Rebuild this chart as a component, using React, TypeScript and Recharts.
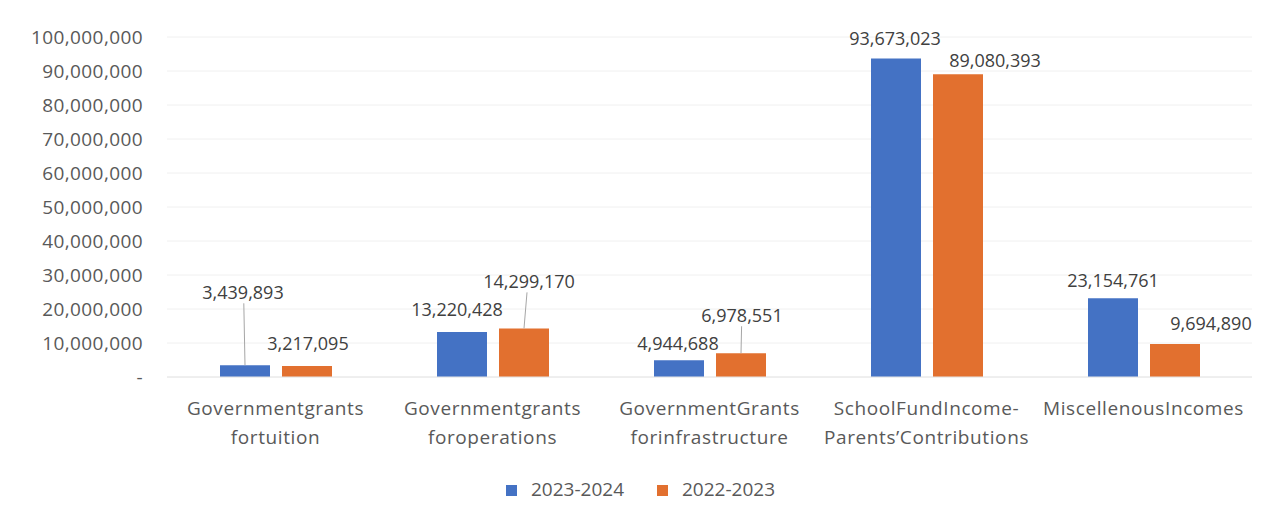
import React from "react";
import {
  BarChart,
  Bar,
  XAxis,
  YAxis,
  CartesianGrid,
  Legend,
  LabelList,
} from "recharts";

const CATEGORIES = [
  "Governmentgrants\nfortuition",
  "Governmentgrants\nforoperations",
  "GovernmentGrants\nforinfrastructure",
  "SchoolFundIncome-\nParents\u2019Contributions",
  "MiscellenousIncomes",
];
const SERIES_2023_2024 = [3439893, 13220428, 4944688, 93673023, 23154761];
const SERIES_2022_2023 = [3217095, 14299170, 6978551, 89080393, 9694890];
const Y_TICKS = [0, 10000000, 20000000, 30000000, 40000000, 50000000, 60000000, 70000000, 80000000, 90000000, 100000000];

const BLUE = "#4472C4";
const ORANGE = "#E2702F";
const TEXT = "#595959";
const FONT = "'Open Sans', sans-serif";

// label nudges [dx, lift above bar top, leader line?]
const LABEL_NUDGE_A: [number, number, boolean][] = [
  [-2, 73, true],
  [-5, 23, false],
  [-1, 17, false],
  [-1, 21, false],
  [0, 18, false],
];
const LABEL_NUDGE_B: [number, number, boolean][] = [
  [1, 23, false],
  [5, 47, true],
  [1, 38, true],
  [37, 14, false],
  [36, 21, false],
];

const data = CATEGORIES.map((name, i) => ({
  name,
  a: SERIES_2023_2024[i],
  b: SERIES_2022_2023[i],
}));

const fmt = (v: number) => v.toLocaleString("en-US");

function makeLabel(nudge: [number, number, boolean][]) {
  return (props: any) => {
    const { x, y, width, value, index } = props;
    const [dx, lift, leader] = nudge[index];
    const cx = Number(x) + Number(width) / 2;
    const top = Number(y);
    const ty = top - lift;
    return (
      <g>
        {leader && (
          <line x1={cx} y1={top} x2={cx + dx * 0.6} y2={ty + 11} stroke="#a6a6a6" strokeWidth={1} />
        )}
        <text
          x={cx + dx}
          y={ty}
          textAnchor="middle"
          dominantBaseline="central"
          fontSize={18}
          fontFamily={FONT}
          fill="#404040"
        >
          {fmt(Number(value))}
        </text>
      </g>
    );
  };
}

function CategoryTick(props: any) {
  const { x, y, payload } = props;
  const lines = String(payload.value).split("\n");
  return (
    <g>
      {lines.map((l: string, i: number) => (
        <text
          key={i}
          x={x}
          y={y + 30 + i * 29}
          textAnchor="middle"
          fontSize={19}
          letterSpacing={0.6}
          fontFamily={FONT}
          fill={TEXT}
        >
          {l}
        </text>
      ))}
    </g>
  );
}

export default function App() {
  return (
    <div style={{ position: "absolute", left: 0, top: 0, width: 1279, height: 518, background: "#fff" }}>
      <BarChart
        width={1279}
        height={518}
        data={data}
        margin={{ top: 37, right: 27, left: 0, bottom: 17 }}
        barSize={50}
        barGap={12}
      >
        <CartesianGrid vertical={false} stroke="#f0f0f0" />
        <XAxis
          dataKey="name"
          axisLine={{ stroke: "#e6e6e6" }}
          tickLine={false}
          tick={<CategoryTick />}
          interval={0}
          height={101}
        />
        <YAxis
          width={167}
          domain={[0, 100000000]}
          ticks={Y_TICKS}
          axisLine={false}
          tickLine={false}
          tickMargin={18}
          tick={{ fontSize: 19, fill: TEXT, fontFamily: FONT, letterSpacing: 0.4 }}
          tickFormatter={(v: number) => (v === 0 ? "-" : fmt(v))}
        />
        <Legend
          verticalAlign="bottom"
          iconType="square"
          iconSize={11}
          itemSorter="dataKey"
          wrapperStyle={{ fontFamily: FONT, fontSize: 19, color: TEXT, lineHeight: "23px", paddingLeft: 31 }}
          formatter={(v: string) => <span style={{ color: TEXT, marginLeft: 10, marginRight: 23 }}>{v}</span>}
        />
        <Bar dataKey="a" name="2023-2024" fill={BLUE} isAnimationActive={false}>
          <LabelList dataKey="a" content={makeLabel(LABEL_NUDGE_A)} />
        </Bar>
        <Bar dataKey="b" name="2022-2023" fill={ORANGE} isAnimationActive={false}>
          <LabelList dataKey="b" content={makeLabel(LABEL_NUDGE_B)} />
        </Bar>
      </BarChart>
    </div>
  );
}
